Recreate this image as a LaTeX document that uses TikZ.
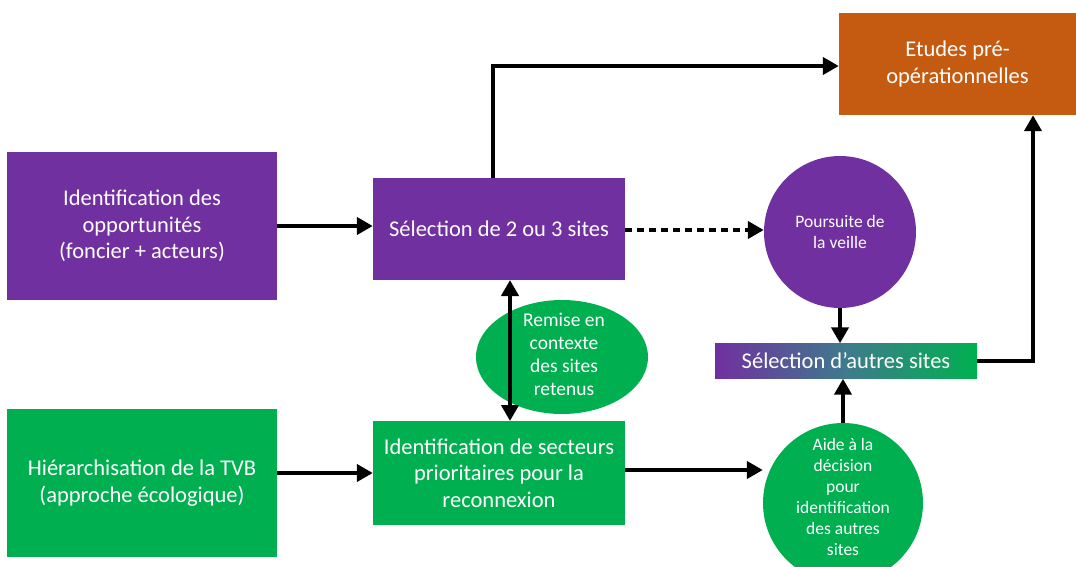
\documentclass[tikz,border=0pt]{standalone}
\usepackage{fontspec}
\setmainfont{Carlito}
\usetikzlibrary{arrows.meta,shapes.geometric}
\definecolor{pur}{HTML}{7030A0}
\definecolor{grn}{HTML}{00B050}
\definecolor{org}{HTML}{C55A11}
\definecolor{mid}{HTML}{3F7A8C}
\begin{document}
\begin{tikzpicture}[x=1pt,y=-1pt,
  box/.style={draw=none,text=white,align=center,inner sep=0pt,font=\fontsize{22.5}{26.5}\selectfont},
  conn/.style={line width=4.5pt,-{Triangle[length=16pt,width=17pt]}},
  circ/.style={circle,draw=none,text=white,align=center,inner sep=0pt,font=\fontsize{17.5}{21}\selectfont}]
\useasboundingbox (0,0) rectangle (1076,567);
\begin{scope}
\clip (0,0) rectangle (1076,567);
\node[box,fill=pur,minimum width=270pt,minimum height=148pt] (opp) at (142,226) {Identification des\\opportunités\\(foncier + acteurs)};
\node[box,fill=pur,minimum width=252pt,minimum height=102pt] (sel) at (499,229) {Sélection de 2 ou 3 sites};
\node[box,fill=org,minimum width=237pt,minimum height=102pt] (etu) at (957.5,64) {Etudes pré-\\opérationnelles};
\node[box,fill=grn,minimum width=270pt,minimum height=148pt] (hie) at (142,483) {Hiérarchisation de la TVB\\(approche écologique)};
\node[box,fill=grn,minimum width=252pt,minimum height=104pt] (sec) at (499,473) {Identification de secteurs\\prioritaires pour la\\reconnexion};
\node[ellipse,fill=grn,inner sep=0pt,minimum width=172pt,minimum height=114pt] (rem) at (562,357) {};
\node[text=white,align=center,font=\fontsize{19.5}{23}\selectfont] (remt) at (564,354) {Remise en\\contexte\\des sites\\retenus};
\node[circ,fill=pur,minimum size=152pt] (pou) at (840,232) {Poursuite de\\la veille};
\node[box,left color=pur,right color=grn,middle color=mid,minimum width=262pt,minimum height=35pt] (aut) at (846,361) {Sélection d’autres sites};
\node[circ,fill=grn,minimum size=160pt] (aid) at (843,503) {};
\node[text=white,align=center,font=\fontsize{17.5}{21}\selectfont] (aidt) at (843,497) {Aide à la\\décision\\pour\\identification\\des autres\\sites};
\end{scope}
\draw[conn] (opp.east|-0,226) -- (sel.west|-0,226);
\draw[conn] (hie.east|-0,473) -- (sec.west|-0,473);
\coordinate (c1) at (493,66);
\draw[conn] (sel.north-|c1) -- (c1) -- (etu.west|-c1);
\draw[line width=4.5pt,dash pattern=on 6.5pt off 5.5pt,-{Triangle[length=16pt,width=17pt]}] (sel.east|-0,230) -- (pou.west|-0,230);
\draw[line width=4.5pt,{Triangle[length=16pt,width=17pt]}-{Triangle[length=16pt,width=17pt]}] (510,280) -- (510,421);
\draw[conn] (sec.east|-0,470) -- (aid.west|-0,470);
\draw[conn] (pou.south) -- (aut.north-|pou.south);
\draw[conn] (aid.north) -- (aut.south-|aid.north);
\coordinate (c2) at (1033,361);
\draw[conn] (aut.east) -- (c2) -- (etu.south-|c2);
\end{tikzpicture}
\end{document}
